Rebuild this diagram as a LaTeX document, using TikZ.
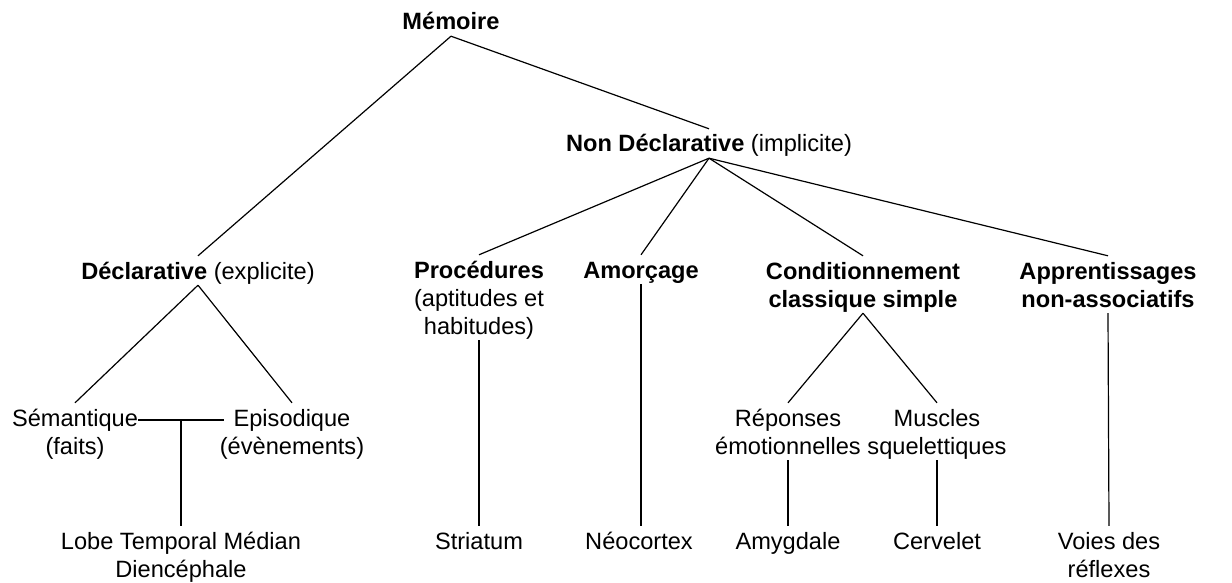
\documentclass[tikz,border=0pt]{standalone}
\usepackage{fontspec}
\setmainfont{Liberation Sans}
% centred block of lines, baseline on its first line
\newcommand\lstack[1]{\begin{tabular}[t]{@{}c@{}}#1\end{tabular}}
\begin{document}
\begin{tikzpicture}[x=1pt,y=-1pt,
  lbl/.style={anchor=base, inner sep=0pt,
    font=\fontsize{23.6}{28}\selectfont},
  link/.style={line width=1.2pt, black}]
\useasboundingbox (0,0) rectangle (1232,583);

% labels (anchored on the baseline of their first line)
\node[lbl] (mem)   at (451,30)  {\lstack{\textbf{Mémoire}}};
\node[lbl] (nd)    at (709,152) {\lstack{\textbf{Non Déclarative} (implicite)}};
\node[lbl] (decl)  at (198,279) {\lstack{\textbf{Déclarative} (explicite)}};
\node[lbl] (sem)   at (75,426)  {\lstack{Sémantique\\(faits)}};
\node[lbl] (epi)   at (292,426) {\lstack{Episodique\\(évènements)}};
\node[lbl] (lobe)  at (181,549) {\lstack{Lobe Temporal Médian\\Diencéphale}};
\node[lbl] (proc)  at (479,278) {\lstack{\textbf{Procédures}\\(aptitudes et\\habitudes)}};
\node[lbl] (amor)  at (641,278) {\lstack{\textbf{Amorçage}}};
\node[lbl] (cond)  at (863,279) {\lstack{\textbf{Conditionnement}\\\textbf{classique simple}}};
\node[lbl] (appr)  at (1108,279) {\lstack{\textbf{Apprentissages}\\\textbf{non-associatifs}}};
\node[lbl] (rep)   at (788,426) {\lstack{Réponses\\émotionnelles}};
\node[lbl] (mus)   at (937,426) {\lstack{Muscles\\squelettiques}};
\node[lbl] (stri)  at (479,549) {\lstack{Striatum}};
\node[lbl] (neo)   at (639,549) {\lstack{Néocortex}};
\node[lbl] (amy)   at (788,549) {\lstack{Amygdale}};
\node[lbl] (cerv)  at (937,549) {\lstack{Cervelet}};
\node[lbl] (voies) at (1109,549) {\lstack{Voies des\\réflexes}};

% tree branches
\draw[link] ([yshift=2.4pt]mem.south) -- ([yshift=3.4pt]decl.north);
\draw[link] ([yshift=2.4pt]mem.south) -- ([yshift=3.4pt]nd.north);

\draw[link] ([yshift=2.4pt]nd.south) -- ([yshift=3.4pt]proc.north);
\draw[link] ([yshift=2.4pt]nd.south) -- ([yshift=3.4pt]amor.north);
\draw[link] ([yshift=2.4pt]nd.south) -- ([yshift=3.4pt]cond.north);
\draw[link] ([yshift=2.4pt]nd.south) -- ([yshift=3.4pt]appr.north);

\draw[link] ([yshift=2.4pt]decl.south) -- ([yshift=3.4pt]sem.north);
\draw[link] ([yshift=2.4pt]decl.south) -- ([yshift=3.4pt]epi.north);

% shared substrate of the two declarative branches
\coordinate (sj) at ([yshift=6pt]sem.base east);
\coordinate (ej) at ([xshift=4pt,yshift=6pt]epi.base west);
\draw[link] (sj) -- (ej);
\draw[link] ([yshift=3.4pt]lobe.north) -- (lobe.north |- sj);

\draw[link] ([yshift=2.4pt]proc.south) -- ([yshift=3.4pt]stri.north);
\draw[link] ([yshift=2.4pt]amor.south) -- ([yshift=3.4pt]amor.south |- neo.north);

\draw[link] ([yshift=2.4pt]cond.south) -- ([yshift=3.4pt]rep.north);
\draw[link] ([yshift=2.4pt]cond.south) -- ([yshift=3.4pt]mus.north);
\draw[link] ([yshift=2.4pt]rep.south) -- ([yshift=3.4pt]amy.north);
\draw[link] ([yshift=2.4pt]mus.south) -- ([yshift=3.4pt]cerv.north);

\draw[link] ([yshift=2.4pt]appr.south) -- ([yshift=3.4pt]voies.north);
\end{tikzpicture}
\end{document}
